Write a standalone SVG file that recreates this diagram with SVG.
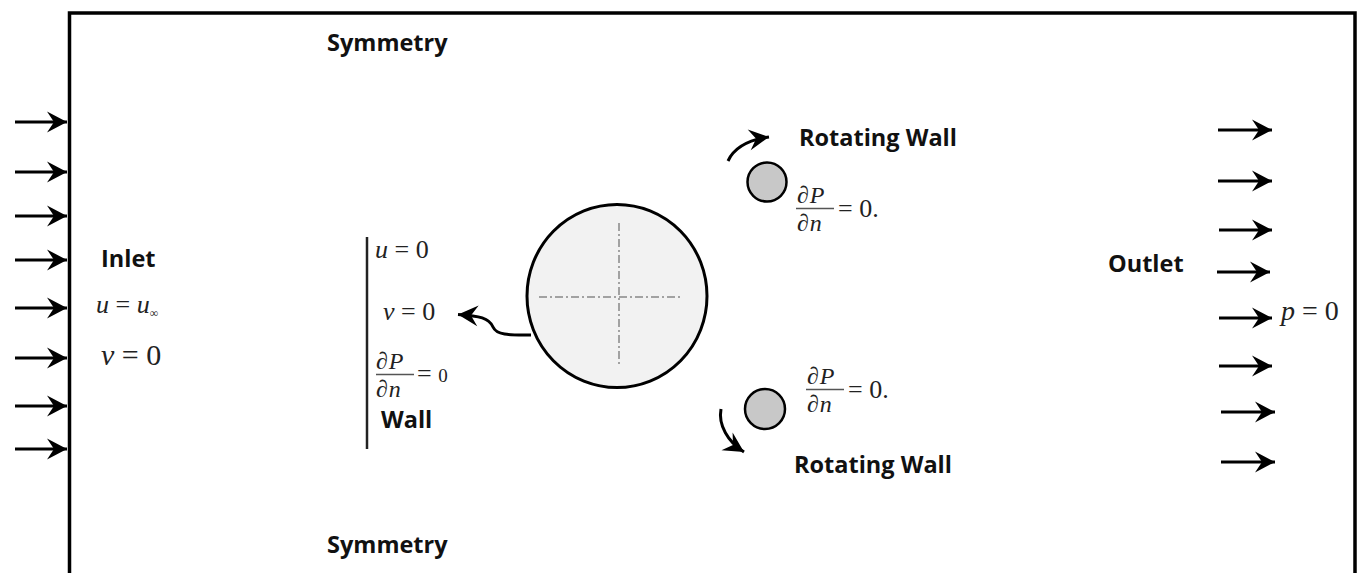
<svg xmlns="http://www.w3.org/2000/svg" width="1357" height="573" viewBox="0 0 1357 573">
<style>
.lbl{font-family:"Open Sans","Liberation Sans",sans-serif;font-weight:700;font-size:23.5px;fill:#111}
.m{font-family:"Liberation Serif","DejaVu Serif",serif;font-size:26px;fill:#222}
.f{font-family:"Liberation Serif","DejaVu Serif",serif;font-size:24px;fill:#222;letter-spacing:1px}
.i{font-style:italic}
.ar{stroke:#000;stroke-width:3;fill:none}
.frac{stroke:#555;stroke-width:1.3}
</style>
<defs>
<marker id="ah" markerUnits="userSpaceOnUse" markerWidth="24" markerHeight="24" viewBox="-22 -12 24 24" refX="0" refY="0" orient="auto">
<path d="M0,0 L-20,-10.5 L-13,0 L-20,10.5 Z" fill="#000"/>
</marker>
</defs>
<rect width="1357" height="573" fill="#fff"/>
<g id="domain">
<path d="M69.5,573 V13 H1355 V573" fill="none" stroke="#000" stroke-width="3.5"/>
</g>
<g id="inlet-arrows">
<line class="ar" x1="15" y1="122" x2="67" y2="122" marker-end="url(#ah)"/>
<line class="ar" x1="15" y1="172" x2="67" y2="172" marker-end="url(#ah)"/>
<line class="ar" x1="15" y1="216" x2="67" y2="216" marker-end="url(#ah)"/>
<line class="ar" x1="15" y1="260" x2="67" y2="260" marker-end="url(#ah)"/>
<line class="ar" x1="15" y1="308" x2="67" y2="308" marker-end="url(#ah)"/>
<line class="ar" x1="15" y1="358" x2="67" y2="358" marker-end="url(#ah)"/>
<line class="ar" x1="15" y1="406" x2="67" y2="406" marker-end="url(#ah)"/>
<line class="ar" x1="15" y1="449" x2="67" y2="449" marker-end="url(#ah)"/>
</g>
<g id="outlet-arrows">
<line class="ar" x1="1218" y1="130" x2="1272" y2="130" marker-end="url(#ah)"/>
<line class="ar" x1="1218" y1="181" x2="1272" y2="181" marker-end="url(#ah)"/>
<line class="ar" x1="1219" y1="230" x2="1272" y2="230" marker-end="url(#ah)"/>
<line class="ar" x1="1217" y1="272" x2="1270" y2="272" marker-end="url(#ah)"/>
<line class="ar" x1="1219" y1="318" x2="1272" y2="318" marker-end="url(#ah)"/>
<line class="ar" x1="1219" y1="366" x2="1272" y2="366" marker-end="url(#ah)"/>
<line class="ar" x1="1221" y1="412" x2="1275" y2="412" marker-end="url(#ah)"/>
<line class="ar" x1="1221" y1="462" x2="1275" y2="462" marker-end="url(#ah)"/>
</g>
<g id="symmetry-top"><text class="lbl" x="327" y="51">Symmetry</text></g>
<g id="symmetry-bottom"><text class="lbl" x="327" y="553">Symmetry</text></g>
<g id="inlet">
<text class="lbl" x="101" y="267">Inlet</text>
<text class="m" x="96" y="313"><tspan class="i">u</tspan> = <tspan class="i">u</tspan><tspan font-size="12" dy="4">∞</tspan></text>
<text class="m" x="101" y="365" style="font-size:30px"><tspan class="i">v</tspan> = 0</text>
</g>
<g id="wall">
<line x1="367" y1="237" x2="367" y2="449" stroke="#222" stroke-width="2.5"/>
<text class="m" x="375" y="258"><tspan class="i">u</tspan> = 0</text>
<text class="m" x="383" y="320"><tspan class="i">v</tspan> = 0</text>
<text class="f" x="376" y="369"><tspan>∂</tspan><tspan class="i">P</tspan></text>
<line class="frac" x1="376" y1="374.5" x2="414" y2="374.5"/>
<text class="f" x="376" y="397"><tspan>∂</tspan><tspan class="i">n</tspan></text>
<text class="m" x="417" y="382">= <tspan font-size="19">0</tspan></text>
<text class="lbl" x="381" y="428">Wall</text>
</g>
<g id="cylinder">
<ellipse cx="617" cy="296" rx="90" ry="91.5" fill="#f2f2f2" stroke="#000" stroke-width="3"/>
<line x1="539" y1="297" x2="680" y2="297" stroke="#888" stroke-width="1.5" stroke-dasharray="8,3,2,3"/>
<line x1="619" y1="223" x2="619" y2="367" stroke="#888" stroke-width="1.5" stroke-dasharray="8,3,2,3"/>
</g>
<g id="rotor-top">
<circle cx="767" cy="182" r="19.5" fill="#c8c8c8" stroke="#000" stroke-width="2.5"/>
<text class="lbl" x="799" y="146">Rotating Wall</text>
<text class="f" x="797" y="203"><tspan>∂</tspan><tspan class="i">P</tspan></text>
<line class="frac" x1="796" y1="208.5" x2="834" y2="208.5"/>
<text class="f" x="797" y="231"><tspan>∂</tspan><tspan class="i">n</tspan></text>
<text class="m" x="838" y="217">= 0.</text>
</g>
<g id="rotor-bottom">
<circle cx="765" cy="409" r="20" fill="#c8c8c8" stroke="#000" stroke-width="2.5"/>
<text class="lbl" x="794" y="473">Rotating Wall</text>
<text class="f" x="807" y="384"><tspan>∂</tspan><tspan class="i">P</tspan></text>
<line class="frac" x1="806" y1="389.5" x2="844" y2="389.5"/>
<text class="f" x="807" y="412"><tspan>∂</tspan><tspan class="i">n</tspan></text>
<text class="m" x="848" y="398">= 0.</text>
</g>
<g id="outlet">
<text class="lbl" x="1108" y="272">Outlet</text>
<text class="m" x="1281" y="320" style="font-size:28px"><tspan class="i">p</tspan> = 0</text>
</g>
<g id="connectors">
<path class="ar" d="M531,335 C512,335 497,336 493,327 C489,318 480,316 458,314.5" marker-end="url(#ah)"/>
<path class="ar" d="M728,161 C734,148 748,140 769,137" marker-end="url(#ah)"/>
<path class="ar" d="M721,409 C718,425 728,442 744,452" marker-end="url(#ah)"/>
</g>
</svg>
